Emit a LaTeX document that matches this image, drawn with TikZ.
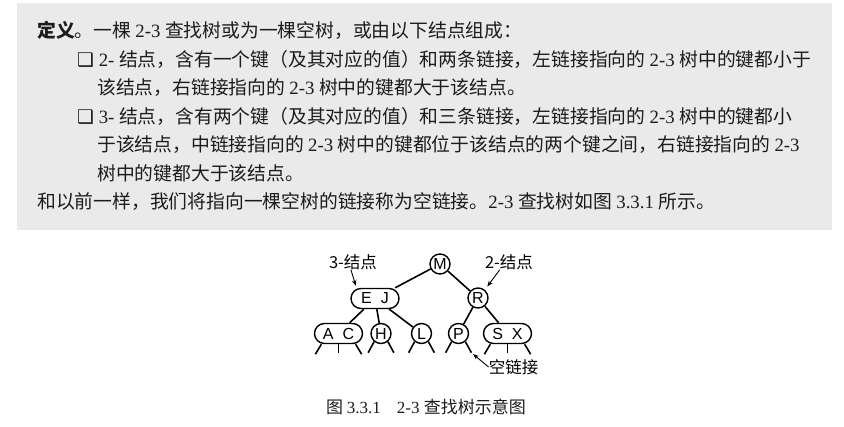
\documentclass[tikz,border=0pt]{standalone}
\usepackage{fontspec}
\setmainfont{Liberation Serif}
\newfontfamily\cjk{Noto Sans CJK SC}
\newfontfamily\keyfont{Liberation Sans}
\newfontfamily\symfont{DejaVu Sans}
\usetikzlibrary{arrows.meta}
\definecolor{boxgray}{RGB}{234,234,234}
\definecolor{ink}{RGB}{28,28,28}
\newcommand{\sqbullet}{{\symfont\char"2751}}

\tikzset{
  two/.style={draw,circle,minimum size=20pt,inner sep=0pt,line width=1.4pt,
    font=\keyfont\fontsize{16}{16}\selectfont},
  three/.style={draw,rectangle,rounded corners=10pt,minimum width=48pt,
    minimum height=20pt,inner sep=0pt,line width=1.4pt,
    font=\keyfont\fontsize{16}{16}\selectfont},
  link/.style={line width=1.6pt},
  ptr/.style={line width=0.9pt,-{Stealth[length=6pt,width=4.5pt]},shorten >=2pt},
  txtline/.style={anchor=west,inner sep=0pt,text=ink,
    font=\fontsize{18.8}{20}\selectfont},
  lab/.style={inner sep=0pt,font=\cjk\fontsize{16.5}{17}\selectfont}
}

\begin{document}
\begin{tikzpicture}[x=1pt,y=-1pt]
\useasboundingbox (0,0) rectangle (844,427);
\fill[boxgray] (17,3) rectangle (832,230);

% definition text
\node[txtline] (t1) at (37,30) {{\cjk\bfseries 定义}{\cjk 。一棵 }2-3 {\cjk 查找树或为一棵空树，或由以下结点组成：}};
\node[txtline] (t2) at (77,59) {\sqbullet\ 2- {\cjk 结点，含有一个键（及其对应的值）和两条链接，左链接指向的 }2-3 {\cjk 树中的键都小于}};
\node[txtline] (t3) at (97,88) {{\cjk 该结点，右链接指向的 }2-3 {\cjk 树中的键都大于该结点。}};
\node[txtline] (t4) at (77,116) {\sqbullet\ 3- {\cjk 结点，含有两个键（及其对应的值）和三条链接，左链接指向的 }2-3 {\cjk 树中的键都小}};
\node[txtline] (t5) at (97,145) {{\cjk 于该结点，中链接指向的 }2-3 {\cjk 树中的键都位于该结点的两个键之间，右链接指向的 }2-3};
\node[txtline] (t6) at (97,173) {{\cjk 树中的键都大于该结点。}};
\node[txtline] (t7) at (37,202) {{\cjk 和以前一样，我们将指向一棵空树的链接称为空链接。}2-3 {\cjk 查找树如图 }3.3.1 {\cjk 所示。}};

% the tree
\node[two] (M) at (440,264) {M};
\node[three] (EJ) at (375,298.5) {E\hspace{9pt}J};
\node[two] (R) at (478,298) {R};
\node[three] (AC) at (338.5,333.5) {A\hspace{9pt}C};
\node[two] (H) at (381,333.5) {H};
\node[two] (L) at (421.5,333.5) {L};
\node[two] (P) at (458.5,333.5) {P};
\node[three] (SX) at (507.5,333.5) {S\hspace{9pt}X};

\draw[link] (M) -- (EJ);
\draw[link] (M) -- (R);
\draw[link] (EJ) -- (AC);
\draw[link] (EJ) -- (H);
\draw[link] (EJ) -- (L);
\draw[link] (R) -- (P);
\draw[link] (R) -- (SX);

% null links
\foreach \n in {H,L,P}{
  \draw[link] (\n.-130) -- ++(-6,11) coordinate (\n-l);
  \draw[link] (\n.-50) -- ++(6,11) coordinate (\n-r);
}
\foreach \n in {AC,SX}{
  \draw[link] (\n.-148) -- ++(-6,10) coordinate (\n-l);
  \draw[link] (\n.south) -- ++(0,8.5) coordinate (\n-m);
  \draw[link] (\n.-32) -- ++(6,10) coordinate (\n-r);
}

% labels
\node[lab] (lab3) at (353,262) {3-结点};
\node[lab] (lab2) at (509,262) {2-结点};
\node[lab] (labnull) at (513.5,367) {空链接};
\draw[ptr] (lab3.-105) -- (EJ.150);
\draw[ptr,shorten >=4pt] (lab2.-140) -- (R.50);
\draw[ptr] (labnull.west) -- (P-r);

\node[text=ink,font=\fontsize{17}{18}\selectfont] (cap) at (426,407)
  {{\cjk 图 }3.3.1\hspace{16pt}2-3 {\cjk 查找树示意图}};
\end{tikzpicture}
\end{document}
